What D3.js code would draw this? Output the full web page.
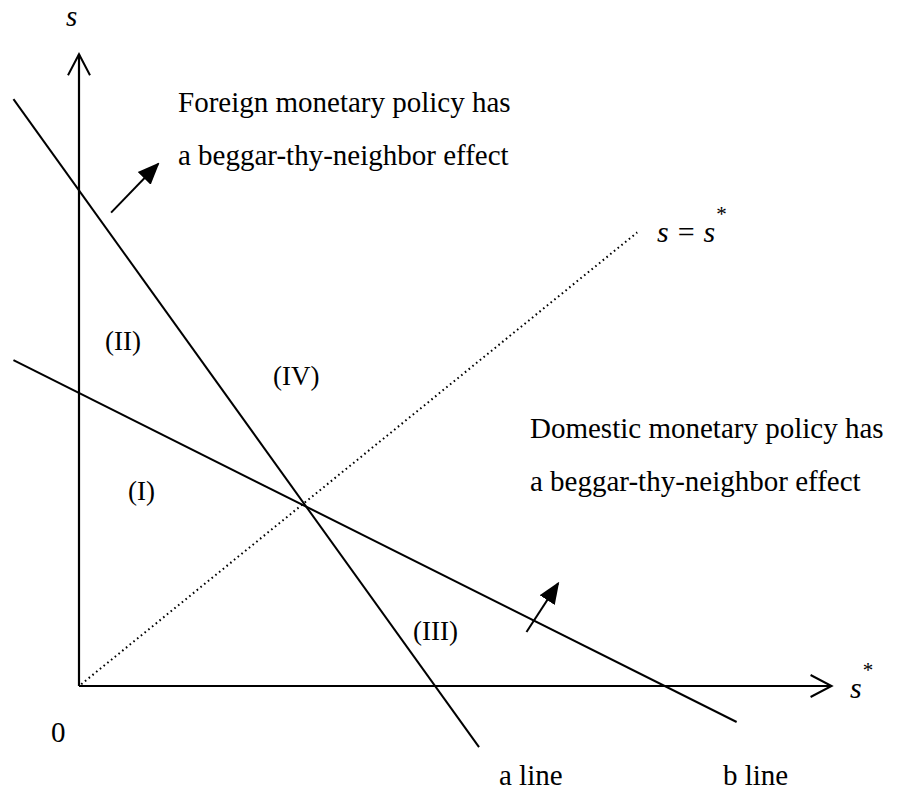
<!DOCTYPE html>
<html>
<head>
<meta charset="utf-8">
<script src="https://cdn.jsdelivr.net/npm/d3@7"></script>
<style>
  body { margin: 0; background: #fff; }
  svg text { font-family: "Liberation Serif", "Times New Roman", serif; fill: #000; }
</style>
</head>
<body>
<svg width="897" height="792"></svg>
<script>
// data, in model units: origin (0,0), the a/b crossing at (1,1)
var aLine = [[-0.29, 3.26], [1.77, -0.34]];
var bLine = [[-0.29, 1.81], [2.91, -0.2]];
var diagLine = [[0.01, 0.01], [2.47, 2.52]];
var yAxisPts = [[0, 0], [0, 3.51]];
var xAxisPts = [[0, 0], [3.33, 0]];
var foreignArrow = [[0.142, 2.63], [0.35, 2.9]];
var domesticArrow = [[1.98, 0.3], [2.12, 0.57]];

var regionNames = ["(I)", "(II)", "(III)", "(IV)"];
var foreignText = ["Foreign monetary policy has", "a beggar-thy-neighbor effect"];
var domesticText = ["Domestic monetary policy has", "a beggar-thy-neighbor effect"];
var lineNames = ["a line", "b line"];

var svg = d3.select("svg");

var x = d3.scaleLinear().domain([0, 1]).range([79, 305]);
var y = d3.scaleLinear().domain([0, 1]).range([686, 506]);

var line = d3.line().x(function(d) { return x(d[0]); }).y(function(d) { return y(d[1]); });

// arrow heads
var defs = svg.append("defs");
defs.append("marker")
    .attr("id", "open")
    .attr("viewBox", "0 0 24 24")
    .attr("refX", 22).attr("refY", 12)
    .attr("markerWidth", 24).attr("markerHeight", 24)
    .attr("markerUnits", "userSpaceOnUse")
    .attr("orient", "auto")
  .append("path")
    .attr("d", "M1,1 L22,12 L1,23")
    .attr("fill", "none")
    .attr("stroke", "#000")
    .attr("stroke-width", 2);
defs.append("marker")
    .attr("id", "solid")
    .attr("viewBox", "0 0 22 20")
    .attr("refX", 20).attr("refY", 10)
    .attr("markerWidth", 22).attr("markerHeight", 20)
    .attr("markerUnits", "userSpaceOnUse")
    .attr("orient", "auto")
  .append("path")
    .attr("d", "M0,1 L22,10 L0,19 Z")
    .attr("fill", "#000");

// axes
[yAxisPts, xAxisPts].forEach(function(p) {
  svg.append("path")
      .attr("d", line(p))
      .attr("stroke", "#000")
      .attr("stroke-width", 2.2)
      .attr("fill", "none")
      .attr("marker-end", "url(#open)");
});

// 45 degree line
svg.append("path")
    .attr("d", line(diagLine))
    .attr("stroke", "#000")
    .attr("stroke-width", 2)
    .attr("stroke-dasharray", "1.6 3.2")
    .attr("fill", "none");

// a and b lines
[aLine, bLine].forEach(function(p) {
  svg.append("path")
      .attr("d", line(p))
      .attr("stroke", "#000")
      .attr("stroke-width", 2)
      .attr("fill", "none");
});

// effect arrows
[foreignArrow, domesticArrow].forEach(function(p) {
  svg.append("path")
      .attr("d", line(p))
      .attr("stroke", "#000")
      .attr("stroke-width", 2)
      .attr("fill", "none")
      .attr("marker-end", "url(#solid)");
});

var fs = 29;

// axis labels
svg.append("text").attr("x", 66).attr("y", 26)
    .style("font-style", "italic").style("font-size", "29px").text("s");
var sx = svg.append("text").attr("x", 850).attr("y", 698)
    .style("font-size", "30px");
sx.append("tspan").style("font-style", "italic").text("s");
sx.append("tspan").attr("dx", 1).attr("dy", -21).style("font-size", "21px").text("*");

svg.append("text").attr("x", 51).attr("y", 742).style("font-size", fs + "px").text("0");

var eq = svg.append("text").attr("x", 657).attr("y", 242).style("font-size", "30px");
eq.append("tspan").style("font-style", "italic").text("s");
eq.append("tspan").attr("dx", 9).text("=");
eq.append("tspan").attr("dx", 9).style("font-style", "italic").text("s");
eq.append("tspan").attr("dx", 1).attr("dy", -21).style("font-size", "21px").text("*");

// region labels
var regionPos = [[128, 500], [105, 350], [413, 640], [273, 385]];
svg.selectAll(".region").data(regionNames).enter().append("text")
    .attr("class", "region")
    .attr("x", function(d, i) { return regionPos[i][0]; })
    .attr("y", function(d, i) { return regionPos[i][1]; })
    .style("font-size", "27px")
    .text(function(d) { return d; });

// policy notes
svg.selectAll(".fnote").data(foreignText).enter().append("text")
    .attr("x", 178)
    .attr("y", function(d, i) { return 112 + i * 53; })
    .style("font-size", fs + "px")
    .text(function(d) { return d; });
svg.selectAll(".dnote").data(domesticText).enter().append("text")
    .attr("x", 530)
    .attr("y", function(d, i) { return 438 + i * 53; })
    .style("font-size", fs + "px")
    .text(function(d) { return d; });

// line names
var lineNamePos = [499, 723];
svg.selectAll(".lname").data(lineNames).enter().append("text")
    .attr("x", function(d, i) { return lineNamePos[i]; })
    .attr("y", 785)
    .style("font-size", fs + "px")
    .text(function(d) { return d; });
</script>
</body>
</html>
